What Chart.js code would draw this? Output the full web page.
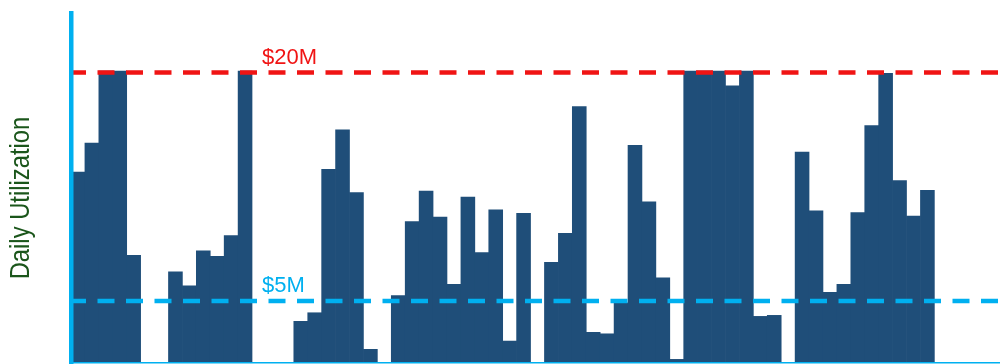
<!DOCTYPE html>
<html>
<head>
<meta charset="utf-8">
<script src="https://cdn.jsdelivr.net/npm/chart.js@4"></script>
<style>
  html, body { margin: 0; padding: 0; background: #fff; overflow: hidden; }
  #wrap { width: 1004px; height: 364px; }
</style>
</head>
<body>
<div id="wrap"><canvas id="c" width="1004" height="364"></canvas></div>
<script>
// Daily utilization ($M) per day; null = no activity that day.
// Bars that reach the red line are capped at the $20M mark.
const utilization = [
  13.15, 15.14, 20.1, 20.1, 7.42, null, null, 6.27, 5.31, 7.72,
  7.35, 8.78, 20.1, null, null, null, 2.87, 3.46, 13.33, 16.06,
  11.73, 0.94, null, 4.65, 9.74, 11.84, 10.05, 5.41, 11.43, 7.61,
  10.54, 1.51, 10.31, null, 6.94, 8.93, 17.66, 2.11, 2.01, 4.14,
  14.98, 11.09, 5.86, 0.25, 20.1, 20.1, 20.1, 19.09, 20.1, 3.21,
  3.28, null, 14.52, 10.47, 4.86, 5.41, 10.36, 16.34, 19.95, 12.56,
  10.12, 11.89, null, null, null, null, null
];
const days = utilization.map((_, i) => "Day " + (i + 1));

// reference lines: value on the y scale + label text
const refValues = [20, 4.27];
const refLabels = ["$20M", "$5M"];
const refColors = ["#f01414", "#00b0f0"];

const AXIS_BLUE = "#00b0f0";
const BAR_BLUE = "#1f4e79";

// dashed limit lines + their labels, drawn over the bars
const refLines = {
  id: "refLines",
  afterDatasetsDraw(chart) {
    const { ctx, chartArea, scales } = chart;
    ctx.save();
    refValues.forEach((v, i) => {
      const y = scales.y.getPixelForValue(v);
      ctx.strokeStyle = refColors[i];
      ctx.lineWidth = 4.5;
      ctx.setLineDash([17, 11.5]);
      ctx.beginPath();
      ctx.moveTo(chartArea.left - 2, y);
      ctx.lineTo(chartArea.right, y);
      ctx.stroke();

      ctx.setLineDash([]);
      ctx.fillStyle = refColors[i];
      ctx.font = "22px 'Liberation Sans', Arial, sans-serif";
      ctx.textAlign = "left";
      ctx.textBaseline = "alphabetic";
      ctx.fillText(refLabels[i], chartArea.left + 191, y - 9);
    });
    ctx.restore();
  },
};

// y title: condensed Arial look, sits a little below the axis centre
const yTitle = {
  id: "yTitle",
  afterDraw(chart) {
    const { ctx } = chart;
    ctx.save();
    ctx.translate(21, 198);
    ctx.rotate(-Math.PI / 2);
    ctx.scale(0.85, 1);
    ctx.fillStyle = "#1b561b";
    ctx.font = "28px 'Liberation Sans', Arial, sans-serif";
    ctx.textAlign = "center";
    ctx.textBaseline = "middle";
    ctx.fillText("Daily Utilization", 0, 0);
    ctx.restore();
  },
};

new Chart(document.getElementById("c"), {
  type: "bar",
  data: {
    labels: days,
    datasets: [{
      data: utilization,
      backgroundColor: BAR_BLUE,
      borderWidth: 0,
      barPercentage: 1,
      categoryPercentage: 1,
    }],
  },
  options: {
    responsive: false,
    animation: false,
    layout: { padding: { top: 13, right: 0, bottom: 0, left: 0 } },
    plugins: { legend: { display: false }, tooltip: { enabled: false } },
    scales: {
      x: {
        grid: { display: false },
        ticks: { display: false },
        border: { display: true, color: AXIS_BLUE, width: 1.5, z: 1 },
        afterFit(s) { s.height = 1; },
      },
      y: {
        min: 0,
        max: 24.1,
        grid: { display: false },
        ticks: { display: false },
        border: { display: true, color: AXIS_BLUE, width: 4.5, z: 1 },
        afterFit(s) { s.width = 71; },
      },
    },
  },
  plugins: [refLines, yTitle],
});
</script>
</body>
</html>
